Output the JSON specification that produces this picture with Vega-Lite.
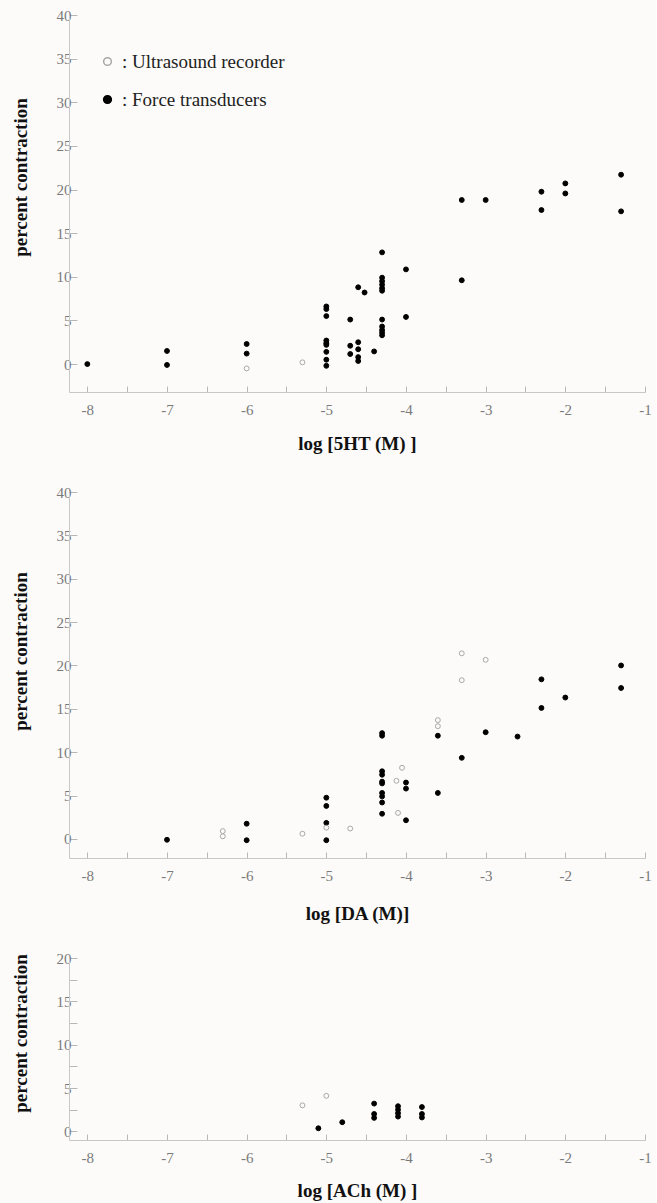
{
  "$schema": "https://vega.github.io/schema/vega-lite/v6.json",
  "background": "#fcfbf9",
  "padding": {"left": 10, "top": 8, "right": 4, "bottom": 4},
  "bounds": "flush",
  "spacing": 100,
  "config": {
    "font": "Liberation Serif",
    "view": {"stroke": null},
    "axis": {
      "grid": false,
      "labelFlush": false,
      "domainColor": "#c8c8c8",
      "tickColor": "#b8b8b8",
      "labelColor": "#7a7a7a",
      "labelFont": "Liberation Serif",
      "labelFontSize": 15,
      "titleFont": "Liberation Serif",
      "titleFontSize": 19,
      "titleFontWeight": "bold",
      "titleColor": "#111111"
    }
  },
  "data": {
    "values": [
      {"drug": "5HT", "method": "Force transducers", "logc": -8, "pct": 0},
      {"drug": "5HT", "method": "Force transducers", "logc": -7, "pct": 1.5},
      {"drug": "5HT", "method": "Force transducers", "logc": -7, "pct": -0.1},
      {"drug": "5HT", "method": "Force transducers", "logc": -6, "pct": 2.3},
      {"drug": "5HT", "method": "Force transducers", "logc": -6, "pct": 1.2},
      {"drug": "5HT", "method": "Force transducers", "logc": -5, "pct": 6.6},
      {"drug": "5HT", "method": "Force transducers", "logc": -5, "pct": 6.3},
      {"drug": "5HT", "method": "Force transducers", "logc": -5, "pct": 5.5},
      {"drug": "5HT", "method": "Force transducers", "logc": -5, "pct": 2.7},
      {"drug": "5HT", "method": "Force transducers", "logc": -5, "pct": 2.4},
      {"drug": "5HT", "method": "Force transducers", "logc": -5, "pct": 2.2},
      {"drug": "5HT", "method": "Force transducers", "logc": -5, "pct": 1.4},
      {"drug": "5HT", "method": "Force transducers", "logc": -5, "pct": 0.5},
      {"drug": "5HT", "method": "Force transducers", "logc": -5, "pct": -0.2},
      {"drug": "5HT", "method": "Force transducers", "logc": -4.7, "pct": 5.1},
      {"drug": "5HT", "method": "Force transducers", "logc": -4.7, "pct": 2.1},
      {"drug": "5HT", "method": "Force transducers", "logc": -4.7, "pct": 1.15},
      {"drug": "5HT", "method": "Force transducers", "logc": -4.6, "pct": 8.8},
      {"drug": "5HT", "method": "Force transducers", "logc": -4.6, "pct": 2.5},
      {"drug": "5HT", "method": "Force transducers", "logc": -4.6, "pct": 1.7},
      {"drug": "5HT", "method": "Force transducers", "logc": -4.6, "pct": 0.8},
      {"drug": "5HT", "method": "Force transducers", "logc": -4.6, "pct": 0.35},
      {"drug": "5HT", "method": "Force transducers", "logc": -4.52, "pct": 8.2},
      {"drug": "5HT", "method": "Force transducers", "logc": -4.4, "pct": 1.45},
      {"drug": "5HT", "method": "Force transducers", "logc": -4.3, "pct": 12.8},
      {"drug": "5HT", "method": "Force transducers", "logc": -4.3, "pct": 9.9},
      {"drug": "5HT", "method": "Force transducers", "logc": -4.3, "pct": 9.5},
      {"drug": "5HT", "method": "Force transducers", "logc": -4.3, "pct": 9.1},
      {"drug": "5HT", "method": "Force transducers", "logc": -4.3, "pct": 8.7},
      {"drug": "5HT", "method": "Force transducers", "logc": -4.3, "pct": 8.4},
      {"drug": "5HT", "method": "Force transducers", "logc": -4.3, "pct": 5.1},
      {"drug": "5HT", "method": "Force transducers", "logc": -4.3, "pct": 4.3},
      {"drug": "5HT", "method": "Force transducers", "logc": -4.3, "pct": 3.9},
      {"drug": "5HT", "method": "Force transducers", "logc": -4.3, "pct": 3.6},
      {"drug": "5HT", "method": "Force transducers", "logc": -4.3, "pct": 3.3},
      {"drug": "5HT", "method": "Force transducers", "logc": -4, "pct": 10.85},
      {"drug": "5HT", "method": "Force transducers", "logc": -4, "pct": 5.4},
      {"drug": "5HT", "method": "Force transducers", "logc": -3.3, "pct": 18.8},
      {"drug": "5HT", "method": "Force transducers", "logc": -3.3, "pct": 9.6},
      {"drug": "5HT", "method": "Force transducers", "logc": -3, "pct": 18.8},
      {"drug": "5HT", "method": "Force transducers", "logc": -2.3, "pct": 19.75},
      {"drug": "5HT", "method": "Force transducers", "logc": -2.3, "pct": 17.65},
      {"drug": "5HT", "method": "Force transducers", "logc": -2, "pct": 20.7},
      {"drug": "5HT", "method": "Force transducers", "logc": -2, "pct": 19.55},
      {"drug": "5HT", "method": "Force transducers", "logc": -1.3, "pct": 21.7},
      {"drug": "5HT", "method": "Force transducers", "logc": -1.3, "pct": 17.5},
      {"drug": "5HT", "method": "Ultrasound recorder", "logc": -6, "pct": -0.5},
      {"drug": "5HT", "method": "Ultrasound recorder", "logc": -5.3, "pct": 0.2},

      {"drug": "DA", "method": "Force transducers", "logc": -7, "pct": -0.1},
      {"drug": "DA", "method": "Force transducers", "logc": -6, "pct": 1.75},
      {"drug": "DA", "method": "Force transducers", "logc": -6, "pct": -0.15},
      {"drug": "DA", "method": "Force transducers", "logc": -5, "pct": 4.75},
      {"drug": "DA", "method": "Force transducers", "logc": -5, "pct": 3.8},
      {"drug": "DA", "method": "Force transducers", "logc": -5, "pct": 1.85},
      {"drug": "DA", "method": "Force transducers", "logc": -5, "pct": -0.15},
      {"drug": "DA", "method": "Force transducers", "logc": -4.3, "pct": 12.2},
      {"drug": "DA", "method": "Force transducers", "logc": -4.3, "pct": 11.9},
      {"drug": "DA", "method": "Force transducers", "logc": -4.3, "pct": 7.8},
      {"drug": "DA", "method": "Force transducers", "logc": -4.3, "pct": 7.4},
      {"drug": "DA", "method": "Force transducers", "logc": -4.3, "pct": 6.6},
      {"drug": "DA", "method": "Force transducers", "logc": -4.3, "pct": 6.4},
      {"drug": "DA", "method": "Force transducers", "logc": -4.3, "pct": 5.3},
      {"drug": "DA", "method": "Force transducers", "logc": -4.3, "pct": 4.9},
      {"drug": "DA", "method": "Force transducers", "logc": -4.3, "pct": 4.2},
      {"drug": "DA", "method": "Force transducers", "logc": -4.3, "pct": 2.9},
      {"drug": "DA", "method": "Force transducers", "logc": -4, "pct": 6.5},
      {"drug": "DA", "method": "Force transducers", "logc": -4, "pct": 5.8},
      {"drug": "DA", "method": "Force transducers", "logc": -4, "pct": 2.15},
      {"drug": "DA", "method": "Force transducers", "logc": -3.6, "pct": 11.9},
      {"drug": "DA", "method": "Force transducers", "logc": -3.6, "pct": 5.3},
      {"drug": "DA", "method": "Force transducers", "logc": -3.3, "pct": 9.35},
      {"drug": "DA", "method": "Force transducers", "logc": -3, "pct": 12.3},
      {"drug": "DA", "method": "Force transducers", "logc": -2.6, "pct": 11.8},
      {"drug": "DA", "method": "Force transducers", "logc": -2.3, "pct": 18.4},
      {"drug": "DA", "method": "Force transducers", "logc": -2.3, "pct": 15.1},
      {"drug": "DA", "method": "Force transducers", "logc": -2, "pct": 16.3},
      {"drug": "DA", "method": "Force transducers", "logc": -1.3, "pct": 20.0},
      {"drug": "DA", "method": "Force transducers", "logc": -1.3, "pct": 17.4},
      {"drug": "DA", "method": "Ultrasound recorder", "logc": -6.3, "pct": 0.9},
      {"drug": "DA", "method": "Ultrasound recorder", "logc": -6.3, "pct": 0.3},
      {"drug": "DA", "method": "Ultrasound recorder", "logc": -5.3, "pct": 0.6},
      {"drug": "DA", "method": "Ultrasound recorder", "logc": -5, "pct": 1.3},
      {"drug": "DA", "method": "Ultrasound recorder", "logc": -4.7, "pct": 1.2},
      {"drug": "DA", "method": "Ultrasound recorder", "logc": -4.1, "pct": 3.0},
      {"drug": "DA", "method": "Ultrasound recorder", "logc": -4.05, "pct": 8.2},
      {"drug": "DA", "method": "Ultrasound recorder", "logc": -4.12, "pct": 6.7},
      {"drug": "DA", "method": "Ultrasound recorder", "logc": -3.6, "pct": 13.7},
      {"drug": "DA", "method": "Ultrasound recorder", "logc": -3.6, "pct": 13.0},
      {"drug": "DA", "method": "Ultrasound recorder", "logc": -3.3, "pct": 21.4},
      {"drug": "DA", "method": "Ultrasound recorder", "logc": -3.3, "pct": 18.3},
      {"drug": "DA", "method": "Ultrasound recorder", "logc": -3, "pct": 20.65},

      {"drug": "ACh", "method": "Force transducers", "logc": -5.1, "pct": 0.35},
      {"drug": "ACh", "method": "Force transducers", "logc": -4.8, "pct": 1.05},
      {"drug": "ACh", "method": "Force transducers", "logc": -4.4, "pct": 3.2},
      {"drug": "ACh", "method": "Force transducers", "logc": -4.4, "pct": 2.0},
      {"drug": "ACh", "method": "Force transducers", "logc": -4.4, "pct": 1.55},
      {"drug": "ACh", "method": "Force transducers", "logc": -4.1, "pct": 2.9},
      {"drug": "ACh", "method": "Force transducers", "logc": -4.1, "pct": 2.5},
      {"drug": "ACh", "method": "Force transducers", "logc": -4.1, "pct": 2.1},
      {"drug": "ACh", "method": "Force transducers", "logc": -4.1, "pct": 1.7},
      {"drug": "ACh", "method": "Force transducers", "logc": -3.8, "pct": 2.8},
      {"drug": "ACh", "method": "Force transducers", "logc": -3.8, "pct": 2.0},
      {"drug": "ACh", "method": "Force transducers", "logc": -3.8, "pct": 1.6},
      {"drug": "ACh", "method": "Ultrasound recorder", "logc": -5.3, "pct": 3.0},
      {"drug": "ACh", "method": "Ultrasound recorder", "logc": -5.0, "pct": 4.1}
    ]
  },
  "vconcat": [
    {
      "width": 576,
      "height": 377,
      "transform": [{"filter": "datum.drug == '5HT'"}],
      "mark": {"type": "point", "size": 24, "strokeWidth": 1, "opacity": 1},
      "encoding": {
        "x": {
          "field": "logc", "type": "quantitative",
          "scale": {"domain": [-8.23, -1], "nice": false, "zero": false},
          "axis": {
            "title": "log [5HT (M) ]",
            "values": [-8, -7.5, -7, -6.5, -6, -5.5, -5, -4.5, -4, -3.5, -3, -2.5, -2, -1.5, -1],
            "labelExpr": "datum.value % 1 == 0 ? '-' + abs(datum.value) : ''",
            "tickSize": -6, "labelPadding": 16,
            "titleY": 51, "titleBaseline": "middle"
          }
        },
        "y": {
          "field": "pct", "type": "quantitative",
          "scale": {"domain": [-3.2, 40], "nice": false, "zero": false},
          "axis": {
            "title": "percent contraction",
            "values": [0, 5, 10, 15, 20, 25, 30, 35, 40],
            "tickSize": -8, "labelPadding": 6,
            "titleX": -39, "titleY": 162, "titleBaseline": "bottom", "titleAlign": "center"
          }
        },
        "fill": {
          "field": "method", "type": "nominal",
          "scale": {"domain": ["Ultrasound recorder", "Force transducers"], "range": ["transparent", "#000000"]},
          "legend": {
            "title": null, "orient": "none", "legendX": 29, "legendY": 37,
            "labelExpr": "': ' + datum.label", "labelLimit": 0,
            "labelFontSize": 19, "labelColor": "#222222", "labelFont": "Liberation Serif",
            "symbolSize": 60, "symbolType": "circle", "rowPadding": 18, "labelOffset": 5, "padding": 0
          }
        },
        "stroke": {
          "field": "method", "type": "nominal",
          "scale": {"domain": ["Ultrasound recorder", "Force transducers"], "range": ["#a8a8a8", "#000000"]},
          "legend": {
            "title": null, "orient": "none", "legendX": 29, "legendY": 37,
            "labelExpr": "': ' + datum.label", "labelLimit": 0,
            "labelFontSize": 19, "labelColor": "#222222", "labelFont": "Liberation Serif",
            "symbolSize": 60, "symbolType": "circle", "rowPadding": 18, "labelOffset": 5, "padding": 0
          }
        }
      }
    },
    {
      "width": 576,
      "height": 366,
      "transform": [{"filter": "datum.drug == 'DA'"}],
      "mark": {"type": "point", "size": 24, "strokeWidth": 1, "opacity": 1},
      "encoding": {
        "x": {
          "field": "logc", "type": "quantitative",
          "scale": {"domain": [-8.23, -1], "nice": false, "zero": false},
          "axis": {
            "title": "log [DA (M)]",
            "values": [-8, -7.5, -7, -6.5, -6, -5.5, -5, -4.5, -4, -3.5, -3, -2.5, -2, -1.5, -1],
            "labelExpr": "datum.value % 1 == 0 ? '-' + abs(datum.value) : ''",
            "tickSize": -6, "labelPadding": 16,
            "titleY": 55, "titleBaseline": "middle"
          }
        },
        "y": {
          "field": "pct", "type": "quantitative",
          "scale": {"domain": [-2.2, 40], "nice": false, "zero": false},
          "axis": {
            "title": "percent contraction",
            "values": [0, 5, 10, 15, 20, 25, 30, 35, 40],
            "tickSize": -8, "labelPadding": 6,
            "titleX": -39, "titleY": 159, "titleBaseline": "bottom", "titleAlign": "center"
          }
        },
        "fill": {
          "field": "method", "type": "nominal",
          "scale": {"domain": ["Ultrasound recorder", "Force transducers"], "range": ["transparent", "#000000"]},
          "legend": null
        },
        "stroke": {
          "field": "method", "type": "nominal",
          "scale": {"domain": ["Ultrasound recorder", "Force transducers"], "range": ["#a8a8a8", "#000000"]},
          "legend": null
        }
      }
    },
    {
      "width": 576,
      "height": 182,
      "transform": [{"filter": "datum.drug == 'ACh'"}],
      "mark": {"type": "point", "size": 24, "strokeWidth": 1, "opacity": 1},
      "encoding": {
        "x": {
          "field": "logc", "type": "quantitative",
          "scale": {"domain": [-8.23, -1], "nice": false, "zero": false},
          "axis": {
            "title": "log [ACh (M) ]",
            "values": [-8, -7.5, -7, -6.5, -6, -5.5, -5, -4.5, -4, -3.5, -3, -2.5, -2, -1.5, -1],
            "labelExpr": "datum.value % 1 == 0 ? '-' + abs(datum.value) : ''",
            "tickSize": -6, "labelPadding": 16,
            "titleY": 50, "titleBaseline": "middle"
          }
        },
        "y": {
          "field": "pct", "type": "quantitative",
          "scale": {"domain": [-1, 20], "nice": false, "zero": false},
          "axis": {
            "title": "percent contraction",
            "values": [0, 2.5, 5, 7.5, 10, 12.5, 15, 17.5, 20],
            "labelExpr": "datum.value % 5 == 0 ? datum.label : ''",
            "tickSize": -8, "labelPadding": 6,
            "titleX": -39, "titleY": 75, "titleBaseline": "bottom", "titleAlign": "center"
          }
        },
        "fill": {
          "field": "method", "type": "nominal",
          "scale": {"domain": ["Ultrasound recorder", "Force transducers"], "range": ["transparent", "#000000"]},
          "legend": null
        },
        "stroke": {
          "field": "method", "type": "nominal",
          "scale": {"domain": ["Ultrasound recorder", "Force transducers"], "range": ["#a8a8a8", "#000000"]},
          "legend": null
        }
      }
    }
  ]
}
